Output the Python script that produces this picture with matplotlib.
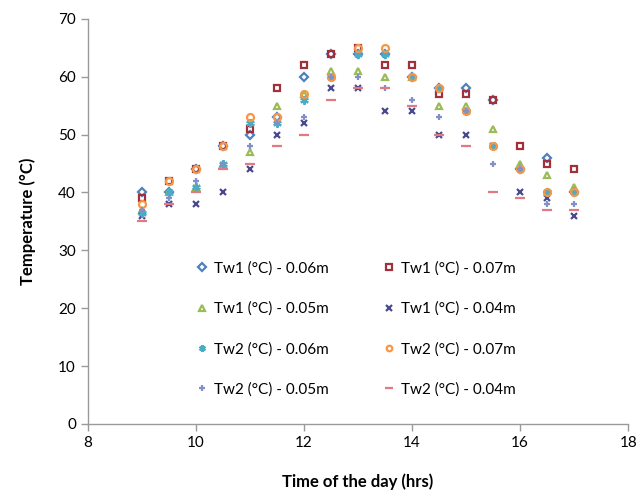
import matplotlib
matplotlib.use("Agg")
import matplotlib.pyplot as plt

plt.rcParams['font.family'] = ['Lato', 'DejaVu Sans']

time = [9, 9.5, 10, 10.5, 11, 11.5, 12, 12.5, 13, 13.5, 14, 14.5, 15, 15.5, 16, 16.5, 17]

tw1_006 = [40, 40, 44, 48, 50, 53, 60, 64, 64, 64, 60, 58, 58, 56, 44, 46, 40]
tw1_007 = [39, 42, 44, 48, 51, 58, 62, 64, 65, 62, 62, 57, 57, 56, 48, 45, 44]
tw1_005 = [37, 40, 41, 45, 47, 55, 57, 61, 61, 60, 60, 55, 55, 51, 45, 43, 41]
tw1_004 = [36, 38, 38, 40, 44, 50, 52, 58, 58, 54, 54, 50, 50, 48, 40, 39, 36]
tw2_006 = [36.5, 40, 41, 45, 52, 52, 56, 60, 64, 64, 60, 58, 54, 48, 44, 40, 40]
tw2_007 = [38, 42, 44, 48, 53, 53, 57, 60, 65, 65, 60, 58, 54, 48, 44, 40, 40]
tw2_005 = [37, 39, 42, 45, 48, 52, 53, 60, 60, 58, 56, 53, 54, 45, 44, 38, 38]
tw2_004 = [35, 38, 40, 44, 45, 48, 50, 56, 58, 58, 55, 50, 48, 40, 39, 37, 37]

labels = ["Tw1 (°C) - 0.06m", "Tw1 (°C) - 0.07m",
          "Tw1 (°C) - 0.05m", "Tw1 (°C) - 0.04m",
          "Tw2 (°C) - 0.06m", "Tw2 (°C) - 0.07m",
          "Tw2 (°C) - 0.05m", "Tw2 (°C) - 0.04m"]

series = [tw1_006, tw1_007, tw1_005, tw1_004, tw2_006, tw2_007, tw2_005, tw2_004]
colors = ['#4F81BD', '#A0303A', '#9BBB59', '#4A4A90', '#4BACC6', '#F79646', '#8090C8', '#E07A80']
markers = ['D', 's', '^', 'x', (6, 2, 0), 'o', '+', '_']

fig = plt.figure(figsize=(6.41, 4.97), dpi=100)
ax = fig.add_axes([0.137, 0.147, 0.843, 0.815])

handles = []
for ys, lab, c, m in zip(series, labels, colors, markers):
    filled = m in ('x', '+', '_') or isinstance(m, tuple)
    ms = 5
    if m == 'D':
        ms = 4.5
    if m == '_':
        ms = 7
    if isinstance(m, tuple):
        ms = 6
    h, = ax.plot(time, ys, linestyle='none', marker=m, markersize=ms,
                 markerfacecolor='none' if not filled else c,
                 markeredgecolor=c, markeredgewidth=1.6, label=lab)
    handles.append(h)

ax.set_xlim(8, 18)
ax.set_ylim(0, 70)
ax.set_xticks([8, 10, 12, 14, 16, 18])
ax.set_yticks(range(0, 71, 10))
for s in ['top', 'right']:
    ax.spines[s].set_visible(False)
for s in ['left', 'bottom']:
    ax.spines[s].set_color('#9a9a9a')
    ax.spines[s].set_linewidth(1.0)
ax.tick_params(axis='both', colors='#9a9a9a', labelcolor='black', labelsize=11, length=5, width=1, direction='out')

ax.set_xlabel("Time of the day (hrs)", fontsize=12, fontweight='bold', labelpad=17)
ax.set_ylabel("Temperature (°C)", fontsize=12, fontweight='bold', labelpad=16)

order = [0, 2, 4, 6, 1, 3, 5, 7]
leg = ax.legend([handles[i] for i in order], [labels[i] for i in order],
                ncol=2, loc='upper left', bbox_to_anchor=(0.175, 0.435),
                frameon=False, fontsize=11, labelspacing=1.7,
                columnspacing=3.5, handlelength=0.8, handletextpad=0.4,
                markerscale=0.8)

fig.savefig("out.png", dpi=100)
